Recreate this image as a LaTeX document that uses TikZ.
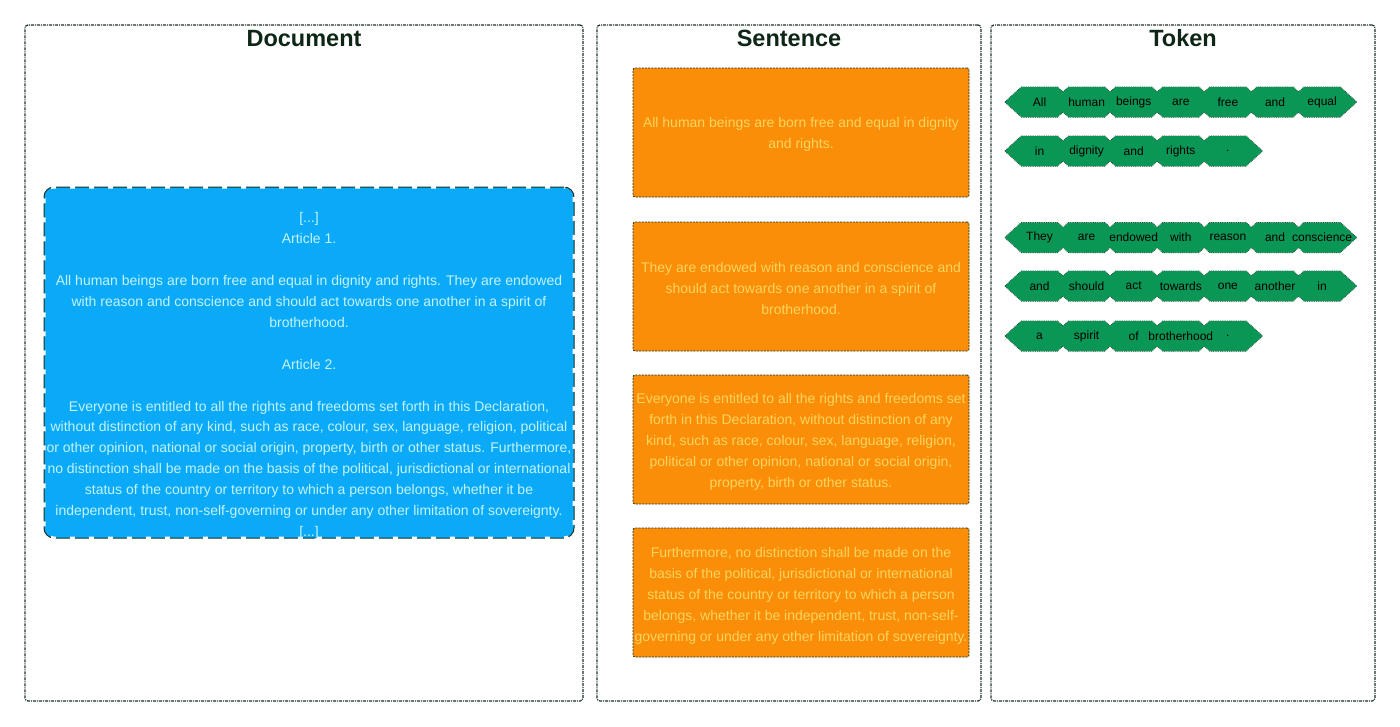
\documentclass[tikz,border=0pt]{standalone}
\usepackage{fontspec}
\setmainfont{Liberation Sans}
\definecolor{framec}{HTML}{1A3324}
\definecolor{titlec}{HTML}{0E2616}
\definecolor{docblue}{HTML}{0AAAF8}
\definecolor{doctext}{HTML}{C2F3FF}
\definecolor{sentor}{HTML}{FA8E08}
\definecolor{senttext}{HTML}{FFD45E}
\definecolor{tokgreen}{HTML}{0A9655}
\begin{document}
\begin{tikzpicture}[x=1pt,y=-1pt,
  panel/.style={draw=framec, line width=1.2pt, dash pattern=on 3pt off 1pt on 1pt off 1pt, rounded corners=3pt, inner sep=0pt},
  paneltitle/.style={font=\fontsize{23.5}{27}\selectfont\bfseries, text=titlec, anchor=base, inner sep=0pt},
  docbox/.style={fill=docblue, rounded corners=10pt, inner sep=0pt,
    postaction={draw=white, line width=3pt, dash pattern=on 5pt off 14pt, dash phase=5pt},
    postaction={draw=framec, line width=1pt, dash pattern=on 14pt off 5pt}},
  doctxt/.style={text=doctext, align=center, inner sep=0pt, font=\fontsize{14}{20.93}\selectfont},
  sentbox/.style={fill=sentor, draw=framec, line width=0.8pt, dash pattern=on 2pt off 1.2pt, rounded corners=2pt, inner sep=0pt, minimum width=336pt, minimum height=129pt},
  senttxt/.style={text=senttext, align=center, inner sep=0pt, font=\fontsize{14}{21}\selectfont},
  tokedge/.style={draw=framec, line width=1pt, dash pattern=on 1pt off 0.8pt},
  tokfill/.style={fill=tokgreen},
  toktxt/.style={text=black, inner sep=0pt, font=\fontsize{12}{14}\selectfont}
]
\useasboundingbox (0,0) rectangle (1400,726);
% panels
\node[panel, minimum width=558pt, minimum height=676pt] (p1) at (304,363) {};
\node[panel, minimum width=384pt, minimum height=676pt] (p2) at (789,363) {};
\node[panel, minimum width=384pt, minimum height=676pt] (p3) at (1183,363) {};
\node[paneltitle] (t1) at (304,46) {Document};
\node[paneltitle] (t2) at (789,46) {Sentence};
\node[paneltitle] (t3) at (1183,46) {Token};
% document
\node[docbox, minimum width=530pt, minimum height=351pt] (doc) at (309,362.5) {};
\node[doctxt] (doctext) at (309,376) {{[...]}\\
Article 1.\\
\mbox{}\\
All human beings are born free and equal in dignity and rights. They are endowed\\
with reason and conscience and should act towards one another in a spirit of\\
brotherhood.\\
\mbox{}\\
Article 2.\\
\mbox{}\\
Everyone is entitled to all the rights and freedoms set forth in this Declaration,\\
without distinction of any kind, such as race, colour, sex, language, religion, political\\
or other opinion, national or social origin, property, birth or other status. Furthermore,\\
no distinction shall be made on the basis of the political, jurisdictional or international\\
status of the country or territory to which a person belongs, whether it be\\
independent, trust, non-self-governing or under any other limitation of sovereignty.\\
{[...]}};
% sentences
\node[sentbox] (s1) at (801,132.5) {};
\node[sentbox] (s2) at (801,286.5) {};
\node[sentbox] (s3) at (801,439.5) {};
\node[sentbox] (s4) at (801,592.5) {};
\node[senttxt] (s1t) at (801,134) {All human beings are born free and equal in dignity\\and rights.};
\node[senttxt] (s2t) at (801,288.5) {They are endowed with reason and conscience and\\should act towards one another in a spirit of\\brotherhood.};
\node[senttxt] (s3t) at (801,441.5) {Everyone is entitled to all the rights and freedoms set\\forth in this Declaration, without distinction of any\\kind, such as race, colour, sex, language, religion,\\political or other opinion, national or social origin,\\property, birth or other status.};
\node[senttxt] (s4t) at (801,595.5) {Furthermore, no distinction shall be made on the\\basis of the political, jurisdictional or international\\status of the country or territory to which a person\\belongs, whether it be independent, trust, non-self-\\governing or under any other limitation of sovereignty.};
% tokens
\def\tokrows{1/102/{All,human,beings,are,free,and,equal},
  2/151/{in,dignity,and,rights,.},
  3/237.5/{They,are,endowed,with,reason,and,conscience},
  4/286/{and,should,act,towards,one,another,in},
  5/336/{a,spirit,of,brotherhood,.}}
% outlines
\foreach \r/\yy/\words in \tokrows {
  \foreach \w [count=\i from 0] in \words {
    \pgfmathsetmacro\cx{1039.5+47.1*\i}
    \path[tokedge] (\cx-34.5,\yy) -- (\cx-18,\yy-15) -- (\cx+18,\yy-15) -- (\cx+34.5,\yy) -- (\cx+18,\yy+15) -- (\cx-18,\yy+15) -- cycle;
  }
}
% fills
\foreach \r/\yy/\words in \tokrows {
  \foreach \w [count=\i from 0] in \words {
    \pgfmathsetmacro\cx{1039.5+47.1*\i}
    \path[tokfill] (\cx-34.5,\yy) -- (\cx-18,\yy-15) -- (\cx+18,\yy-15) -- (\cx+34.5,\yy) -- (\cx+18,\yy+15) -- (\cx-18,\yy+15) -- cycle;
  }
}
% texts
\foreach \r/\yy/\words in \tokrows {
  \foreach \w [count=\i from 0] in \words {
    \pgfmathsetmacro\cx{1039.5+47.1*\i}
    \node[toktxt] (tt\r-\i) at (\cx,\yy) {\w};
  }
}
\end{tikzpicture}
\end{document}
